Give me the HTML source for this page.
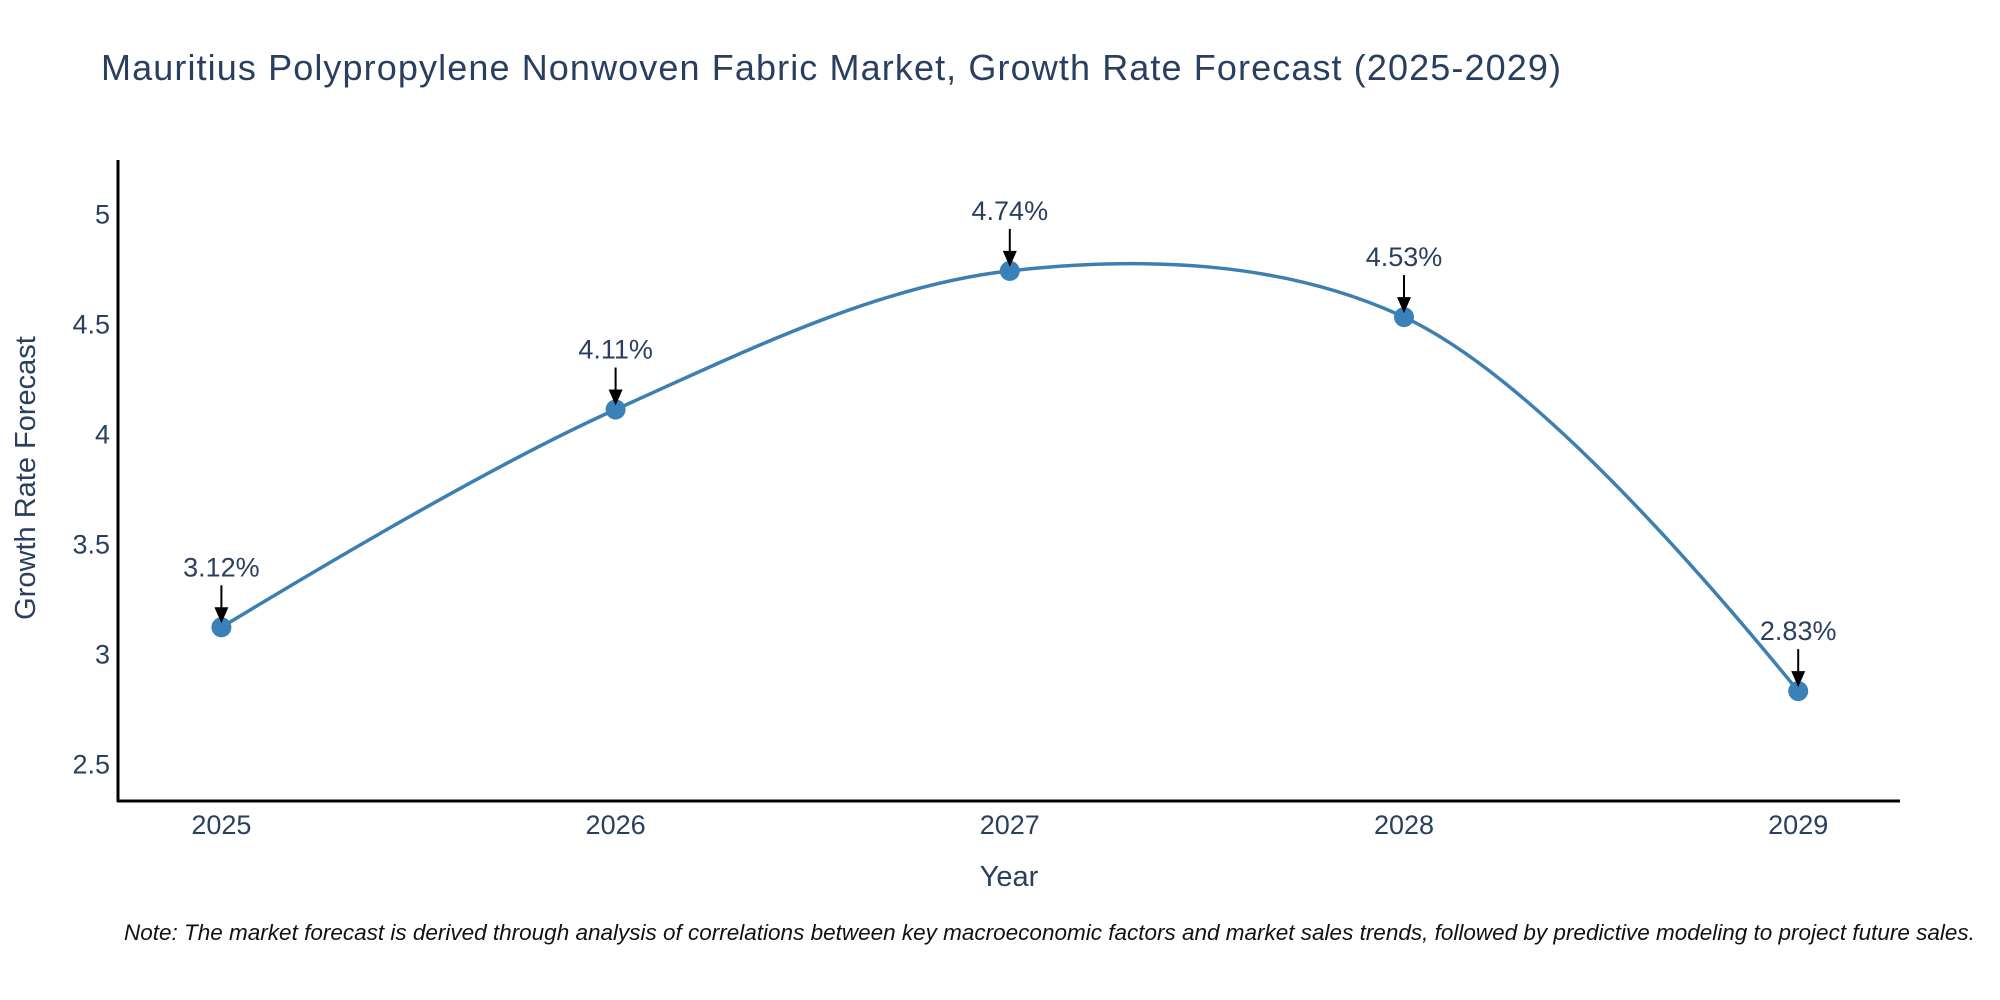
<!DOCTYPE html>
<html><head><meta charset="utf-8"><style>
html,body{margin:0;padding:0;background:#fff;overflow:hidden;}
svg{display:block;font-family:"Liberation Sans",sans-serif;}
</style></head><body>
<svg id="chart" width="2000" height="1000" viewBox="0 0 2000 1000">
<text x="101" y="80" font-size="36" fill="#2a3f5f" textLength="1460">Mauritius Polypropylene Nonwoven Fabric Market, Growth Rate Forecast (2025-2029)</text>
<g id="yticks"></g>
<g id="xticks"></g>
<line x1="118" y1="160" x2="118" y2="802" stroke="#000" stroke-width="3"/>
<line x1="117" y1="801" x2="1900" y2="801" stroke="#000" stroke-width="3"/>
<text transform="translate(35,478) rotate(-90)" text-anchor="middle" font-size="29" fill="#2a3f5f">Growth Rate Forecast</text>
<text x="1009" y="886" text-anchor="middle" font-size="29" fill="#2a3f5f">Year</text>
<path id="line" fill="none" stroke="#3d7fb1" stroke-width="3.5"/>
<g id="marks"></g>
<text x="124" y="940" font-size="22.5" font-style="italic" fill="#111">Note: The market forecast is derived through analysis of correlations between key macroeconomic factors and market sales trends, followed by predictive modeling to project future sales.</text>
</svg>
<script>
const years = [2025, 2026, 2027, 2028, 2029];
const rates = [3.12, 4.11, 4.74, 4.53, 2.83];
const yTicks = [2.5, 3, 3.5, 4, 4.5, 5];
const yTickLabels = ["2.5", "3", "3.5", "4", "4.5", "5"];

const NS = "http://www.w3.org/2000/svg";
function xs(yr){ return 221.4 + (yr - years[0]) * 394.2; }
function ys(v){ return 213.7 + (5 - v) * 220; }
function mk(tag, attrs, parent){ const e = document.createElementNS(NS, tag); for (const k in attrs) e.setAttribute(k, attrs[k]); parent.appendChild(e); return e; }

const yg = document.getElementById('yticks');
yTicks.forEach((v, i) => {
  const t = mk('text', {x: 110, y: ys(v) + 10, 'text-anchor': 'end', 'font-size': 27, fill: '#2a3f5f'}, yg);
  
  
  t.textContent = yTickLabels[i];
});
const xg = document.getElementById('xticks');
years.forEach(yr => {
  const t = mk('text', {x: xs(yr), y: 834, 'text-anchor': 'middle', 'font-size': 27, fill: '#2a3f5f'}, xg);
  
  
  t.textContent = String(yr);
});

const pts = years.map((yr, i) => [xs(yr), ys(rates[i])]);
function tangent(p, c, n, s){
  const d1x = p[0]-c[0], d1y = p[1]-c[1], d2x = n[0]-c[0], d2y = n[1]-c[1];
  const d1a = Math.pow(d1x*d1x + d1y*d1y, 0.25), d2a = Math.pow(d2x*d2x + d2y*d2y, 0.25);
  const nx = (d2a*d2a*d1x - d1a*d1a*d2x)*s, ny = (d2a*d2a*d1y - d1a*d1a*d2y)*s;
  const den1 = 3*d2a*(d1a+d2a), den2 = 3*d1a*(d1a+d2a);
  return [[c[0]+nx/den1, c[1]+ny/den1], [c[0]-nx/den2, c[1]-ny/den2]];
}
const tg = [];
for (let i = 1; i < pts.length - 1; i++) tg.push(tangent(pts[i-1], pts[i], pts[i+1], 1));
let d = 'M' + pts[0] + 'Q' + tg[0][0] + ' ' + pts[1];
for (let i = 2; i < pts.length - 1; i++) d += 'C' + tg[i-2][1] + ' ' + tg[i-1][0] + ' ' + pts[i];
d += 'Q' + tg[pts.length-3][1] + ' ' + pts[pts.length-1];
document.getElementById('line').setAttribute('d', d);

const mg = document.getElementById('marks');
pts.forEach((p, i) => {
  const c = mk('circle', {cx: p[0], cy: p[1], r: 10, fill: '#3a80b9'}, mg);
  
  
  const l = mk('line', {x1: p[0], y1: p[1]-42, x2: p[0], y2: p[1]-18, stroke: '#000', 'stroke-width': 2}, mg);
  
  
  const h = mk('polygon', {points: `${p[0]-7},${p[1]-20} ${p[0]+7},${p[1]-20} ${p[0]},${p[1]-4}`, fill: '#000'}, mg);
  
  
  const t = mk('text', {x: p[0], y: p[1]-51, 'text-anchor': 'middle', 'font-size': 27, fill: '#2a3f5f'}, mg);
  
  
  t.textContent = rates[i].toFixed(2) + '%';
});
</script>
</body></html>
